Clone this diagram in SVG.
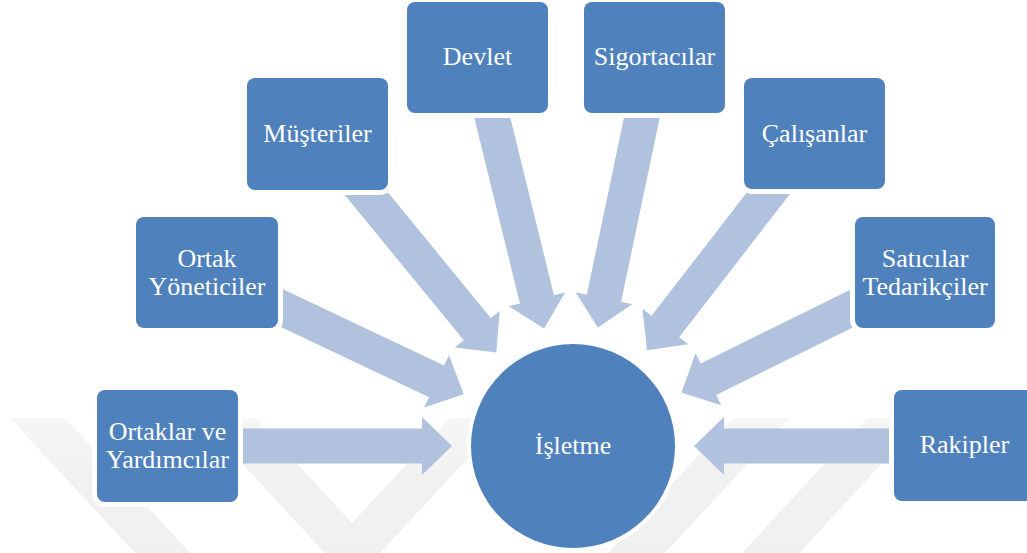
<svg xmlns="http://www.w3.org/2000/svg" width="1027" height="553" viewBox="0 0 1027 553">
  <defs>
    <style>
      .wm { fill: url(#wmFade); }
      .halo { fill: #ffffff; }
      .box { fill: #4f81bd; }
      .arrow { fill: #b1c2de; }
      .label { font-family: "Liberation Serif", "Times New Roman", serif; font-size: 26px; fill: #ffffff; text-anchor: middle; }
    </style>
    <linearGradient id="wmFade" x1="0" y1="418" x2="0" y2="553" gradientUnits="userSpaceOnUse">
      <stop offset="0" stop-color="#f6f6f6"/>
      <stop offset="0.4" stop-color="#f1f1f1"/>
      <stop offset="1" stop-color="#f0f0f0"/>
    </linearGradient>
    <!-- block arrow pointing along +x, tip at the origin; the tail runs under the source box -->
    <polygon id="blockArrow" points="-275,-17.5 -30,-17.5 -30,-29 0,0 -30,29 -30,17.5 -275,17.5"/>
  </defs>

  <rect width="1027" height="553" fill="#ffffff"/>

  <!-- faint background mark -->
  <g id="backdrop">
    <polygon class="wm" points="10,418 65,418 190,553 135,553"/>
    <polygon class="wm" points="200,418 255,418 352,523 450,418 505,418 380,553 325,553"/>
    <polygon class="wm" points="733,418 790,418 665,553 608,553"/>
    <polygon class="wm" points="867,418 924,418 799,553 742,553"/>
  </g>

  <!-- connectors: one block arrow per stakeholder, all aimed at the centre -->
  <g id="connectors" class="arrow">
    <use href="#blockArrow" transform="translate(452,446) rotate(0)"/>
    <use href="#blockArrow" transform="translate(463.7,394.2) rotate(25.37)"/>
    <use href="#blockArrow" transform="translate(496.3,352.4) rotate(50.69)"/>
    <use href="#blockArrow" transform="translate(544.1,328.5) rotate(76.19)"/>
    <use href="#blockArrow" transform="translate(597.8,327.6) rotate(101.85)"/>
    <use href="#blockArrow" transform="translate(647,350.3) rotate(127.7)"/>
    <use href="#blockArrow" transform="translate(681.5,392.5) rotate(153.76)"/>
    <use href="#blockArrow" transform="translate(694,446) rotate(180)"/>
  </g>

  <g id="isletme">
    <circle class="halo" cx="573" cy="446" r="106"/>
    <circle class="box" cx="573" cy="446" r="102"/>
    <text class="label" x="573" y="454">İşletme</text>
  </g>

  <g id="ortaklar">
    <rect class="halo" x="92" y="385" width="151" height="122" rx="13"/>
    <rect class="box" x="97" y="390" width="141" height="112" rx="8"/>
    <text class="label" x="167.5" y="440">Ortaklar ve</text>
    <text class="label" x="167.5" y="468">Yardımcılar</text>
  </g>

  <g id="yoneticiler">
    <rect class="halo" x="131" y="212" width="152" height="121" rx="13"/>
    <rect class="box" x="136" y="217" width="142" height="111" rx="8"/>
    <text class="label" x="207" y="267">Ortak</text>
    <text class="label" x="207" y="295">Yöneticiler</text>
  </g>

  <g id="musteriler">
    <rect class="halo" x="242" y="73" width="151" height="122" rx="13"/>
    <rect class="box" x="247" y="78" width="141" height="112" rx="8"/>
    <text class="label" x="317.5" y="142">Müşteriler</text>
  </g>

  <g id="devlet">
    <rect class="halo" x="402" y="-3" width="151" height="121" rx="13"/>
    <rect class="box" x="407" y="2" width="141" height="111" rx="8"/>
    <text class="label" x="477.5" y="65">Devlet</text>
  </g>

  <g id="sigortacilar">
    <rect class="halo" x="579" y="-3" width="151" height="121" rx="13"/>
    <rect class="box" x="584" y="2" width="141" height="111" rx="8"/>
    <text class="label" x="654.5" y="65">Sigortacılar</text>
  </g>

  <g id="calisanlar">
    <rect class="halo" x="739" y="73" width="151" height="121" rx="13"/>
    <rect class="box" x="744" y="78" width="141" height="111" rx="8"/>
    <text class="label" x="814.5" y="142">Çalışanlar</text>
  </g>

  <g id="saticilar">
    <rect class="halo" x="850" y="212" width="150" height="121" rx="13"/>
    <rect class="box" x="855" y="217" width="140" height="111" rx="8"/>
    <text class="label" x="925" y="267">Satıcılar</text>
    <text class="label" x="925" y="295">Tedarikçiler</text>
  </g>

  <g id="rakipler">
    <rect class="halo" x="889" y="385" width="151" height="121" rx="13"/>
    <rect class="box" x="894" y="390" width="141" height="111" rx="8"/>
    <text class="label" x="964.5" y="453">Rakipler</text>
  </g>
</svg>
